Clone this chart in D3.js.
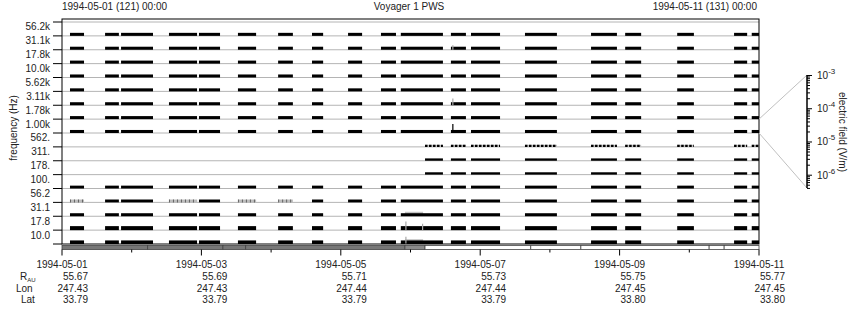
<!DOCTYPE html>
<html>
<head>
<meta charset="utf-8">
<script src="https://cdn.jsdelivr.net/npm/d3@7"></script>
<style>
  body { margin: 0; background: #fff; }
  text { font-family: "Liberation Sans", Arial, sans-serif; font-size: 10px; fill: #222; }
</style>
</head>
<body>
<div id="chart"></div>
<script>
// ---- data ----
const startTime = "1994-05-01T00:00";
const endTime = "1994-05-11T00:00";

const bandLabels = ["56.2k", "31.1k", "17.8k", "10.0k", "5.62k", "3.11k", "1.78k", "1.00k",
                    "562.", "311.", "178.", "100.", "56.2", "31.1", "17.8", "10.0"];

// typical field level in each channel (V/m)
const bandLevel = [2.2e-6, 2.2e-6, 2.2e-6, 2.2e-6, 2.2e-6, 2.2e-6, 2.2e-6, 2.2e-6,
                   1.3e-6, 1.5e-6, 1.5e-6, 2.0e-6, 2.0e-6, 2.2e-6, 3.8e-6, 3.0e-6];

// data-present intervals
const segments = [
  ["1994-05-01T02:45", "1994-05-01T07:35"],
  ["1994-05-01T14:50", "1994-05-01T19:35"],
  ["1994-05-01T20:20", "1994-05-02T07:20"],
  ["1994-05-02T12:50", "1994-05-02T22:30"],
  ["1994-05-02T23:10", "1994-05-03T06:25"],
  ["1994-05-03T12:35", "1994-05-03T18:50"],
  ["1994-05-04T02:25", "1994-05-04T07:30"],
  ["1994-05-04T14:05", "1994-05-04T17:55"],
  ["1994-05-05T02:30", "1994-05-05T07:20"],
  ["1994-05-05T13:50", "1994-05-05T19:00"],
  ["1994-05-05T20:40", "1994-05-06T11:10"],
  ["1994-05-06T13:55", "1994-05-06T19:05"],
  ["1994-05-06T20:50", "1994-05-07T06:50"],
  ["1994-05-07T15:25", "1994-05-08T02:25"],
  ["1994-05-08T14:10", "1994-05-08T23:05"],
  ["1994-05-09T01:55", "1994-05-09T07:25"],
  ["1994-05-09T19:50", "1994-05-10T01:35"],
  ["1994-05-10T15:25", "1994-05-10T19:55"],
  ["1994-05-10T21:30", "1994-05-11T00:00"]
];
// the 562 / 311 / 178 Hz channels only start after the mode change
const modeChange = "1994-05-06T05:00";
const lateBands = ["562.", "311.", "178."];
const dottedBands = ["562."];
// 56.2 Hz channel is faint (grey) in these intervals
const faintBand = "56.2";
const faintSegs = [0, 3, 5, 6];

// grey humps and single spikes
const greyBars = [
  ["1994-05-05T22:05", "1994-05-06T04:20", "31.1", 5.0e-6],
  ["1994-05-05T22:05", "1994-05-06T04:20", "10.0", 6.0e-6]
];
const spikes = [
  ["1994-05-06T14:35", "1.00k", 6.0e-5, "#000"],
  ["1994-05-06T14:35", "3.11k", 1.8e-5, "#aaa"],
  ["1994-05-06T14:35", "31.1k", 5.0e-6, "#aaa"],
  ["1994-05-05T22:25", "17.8", 5.0e-5, "#aaa"],
  ["1994-05-06T04:10", "17.8", 1.5e-5, "#aaa"],
  ["1994-05-05T22:25", "10.0", 2.5e-5, "#aaa"]
];

// coverage bar under the plot
const coverage = [
  ["1994-05-01T00:00", "1994-05-02T05:30", "#777"],
  ["1994-05-02T05:30", "1994-05-03T07:25", "#777"],
  ["1994-05-03T07:25", "1994-05-03T15:15", "#777"],
  ["1994-05-03T15:15", "1994-05-05T22:05", "#777"],
  ["1994-05-05T22:05", "1994-05-06T05:00", "#8a8a8a"],
  ["1994-05-06T05:00", "1994-05-07T17:25", "#fff"],
  ["1994-05-07T17:25", "1994-05-08T10:40", "#fff"],
  ["1994-05-08T10:40", "1994-05-10T06:50", "#fff"],
  ["1994-05-10T06:50", "1994-05-10T12:00", "#fff"],
  ["1994-05-10T12:00", "1994-05-11T00:00", "#fff"]
];

const orbitDates = ["1994-05-01", "1994-05-03", "1994-05-05", "1994-05-07", "1994-05-09", "1994-05-11"];
const rAU = [55.67, 55.69, 55.71, 55.73, 55.75, 55.77];
const lon = [247.43, 247.43, 247.44, 247.44, 247.45, 247.45];
const lat = [33.79, 33.79, 33.79, 33.79, 33.80, 33.80];

const colorTicks = [1e-3, 1e-4, 1e-5, 1e-6];
const ampMin = Math.pow(10, -6.4), ampMax = 1e-3;

// ---- layout ----
const width = 860, height = 320;
const plot = { left: 62, right: 759, top: 19, bandTop: 22, bottom: 244 };

const parse = d3.utcParse("%Y-%m-%dT%H:%M");
const parseDay = d3.utcParse("%Y-%m-%d");

var svg = d3.select("#chart")
    .append("svg")
    .attr("width", width)
    .attr("height", height);

var x = d3.scaleUtc()
    .domain([parse(startTime), parse(endTime)])
    .range([plot.left, plot.right]);

var y = d3.scaleBand()
    .domain(bandLabels)
    .range([plot.bandTop, plot.bottom]);

// height of a trace above its channel baseline
var amp = d3.scaleLog()
    .domain([ampMin, ampMax])
    .range([0, y.bandwidth()]);

var cScale = d3.scaleLog()
    .domain([ampMin, ampMax])
    .range([188, 75]);

const base = b => y(b) + y.bandwidth();

// channel baselines
svg.append("g")
    .selectAll("line")
    .data(bandLabels)
    .join("line")
    .attr("x1", plot.left).attr("x2", plot.right)
    .attr("y1", b => y(b)).attr("y2", b => y(b))
    .attr("stroke", "#b4b4b4")
    .attr("stroke-width", 1);

// frequency ticks at channel boundaries
const bounds = bandLabels.map(b => y(b)).concat([plot.bottom]);
svg.append("g")
    .selectAll("line")
    .data(bounds)
    .join("line")
    .attr("x1", plot.left - 9).attr("x2", plot.left)
    .attr("y1", d => d).attr("y2", d => d)
    .attr("stroke", "#000");

// channel labels
var yAxis = svg.append("g")
    .attr("transform", `translate(${plot.left}, 0)`)
    .call(d3.axisLeft(y).tickSize(0).tickPadding(12));
yAxis.select(".domain").remove();
yAxis.selectAll("text")
    .attr("dy", "0.15em")
    .style("font-size", "10px")
    .attr("fill", "#222");

// grey humps
svg.append("g")
    .selectAll("rect")
    .data(greyBars)
    .join("rect")
    .attr("x", d => x(parse(d[0])))
    .attr("width", d => x(parse(d[1])) - x(parse(d[0])))
    .attr("y", d => base(d[2]) - amp(d[3]))
    .attr("height", d => amp(d[3]))
    .attr("fill", "#c4c4c4");

// data bars
var bars = [];
bandLabels.forEach((b, i) => {
    segments.forEach((s, j) => {
        var t0 = parse(s[0]), t1 = parse(s[1]);
        if (lateBands.includes(b)) {
            var mc = parse(modeChange);
            if (t1 <= mc) return;
            if (t0 < mc) t0 = mc;
        }
        var faint = (b === faintBand && faintSegs.includes(j));
        bars.push({ band: b, t0: t0, t1: t1, v: bandLevel[i], faint: faint });
    });
});

var plain = bars.filter(d => !dottedBands.includes(d.band) && !d.faint);
svg.append("g")
    .selectAll("rect")
    .data(plain)
    .join("rect")
    .attr("x", d => x(d.t0))
    .attr("width", d => x(d.t1) - x(d.t0))
    .attr("y", d => base(d.band) - amp(d.v))
    .attr("height", d => amp(d.v))
    .attr("fill", "#000");

// dotted / faint traces: grey trace with dashes on top
var dotted = bars.filter(d => dottedBands.includes(d.band) || d.faint);
svg.append("g")
    .selectAll("rect")
    .data(dotted)
    .join("rect")
    .attr("x", d => x(d.t0))
    .attr("width", d => x(d.t1) - x(d.t0))
    .attr("y", d => base(d.band) - amp(d.v))
    .attr("height", d => amp(d.v))
    .attr("fill", "#bdbdbd");
svg.append("g")
    .selectAll("line")
    .data(dotted)
    .join("line")
    .attr("x1", d => x(d.t0)).attr("x2", d => x(d.t1))
    .attr("y1", d => base(d.band) - amp(d.v) / 2)
    .attr("y2", d => base(d.band) - amp(d.v) / 2)
    .attr("stroke", d => d.faint ? "#666" : "#000")
    .attr("stroke-width", d => amp(d.v))
    .attr("stroke-dasharray", d => d.faint ? "1,3" : "2.5,1.5");

// spikes
svg.append("g")
    .selectAll("line")
    .data(spikes)
    .join("line")
    .attr("x1", d => x(parse(d[0]))).attr("x2", d => x(parse(d[0])))
    .attr("y1", d => base(d[1]))
    .attr("y2", d => base(d[1]) - amp(d[2]))
    .attr("stroke", d => d[3])
    .attr("stroke-width", 1.2);

// plot frame
svg.append("rect")
    .attr("x", plot.left)
    .attr("y", plot.top)
    .attr("width", plot.right - plot.left)
    .attr("height", plot.bottom - plot.top)
    .attr("fill", "none")
    .attr("stroke", "#000");

// coverage bar
var cov = svg.append("g");
cov.selectAll("rect")
    .data(coverage)
    .join("rect")
    .attr("x", d => x(parse(d[0])))
    .attr("width", d => x(parse(d[1])) - x(parse(d[0])))
    .attr("y", 245.5)
    .attr("height", 4)
    .attr("fill", d => d[2])
    .attr("stroke", "#444")
    .attr("stroke-width", 0.8);

// time axis
const days = d3.utcDay.range(parse(startTime), d3.utcHour.offset(parse(endTime), 1));
var tAxis = svg.append("g")
    .attr("transform", "translate(0, 249.5)");
tAxis.selectAll("line")
    .data(days)
    .join("line")
    .attr("x1", d => x(d)).attr("x2", d => x(d))
    .attr("y1", 0)
    .attr("y2", (d, i) => i % 2 === 0 ? 6 : 3)
    .attr("stroke", "#000");

// time labels and orbit table
const fmtDay = d3.utcFormat("%Y-%m-%d");
var table = svg.append("g");
orbitDates.forEach((d, i) => {
    var tx = x(parseDay(d));
    table.append("text")
        .attr("x", tx).attr("y", 268)
        .attr("text-anchor", "middle")
        .text(fmtDay(parseDay(d)));
    [rAU[i], lon[i], lat[i]].forEach((v, k) => {
        table.append("text")
            .attr("x", tx + 26).attr("y", 280 + k * 11.5)
            .attr("text-anchor", "end")
            .text(v.toFixed(2));
    });
});

var rLab = table.append("text").attr("x", 20).attr("y", 280).text("R");
rLab.append("tspan").attr("dy", 2).style("font-size", "6px").text("AU");
table.append("text").attr("x", 16).attr("y", 291.5).text("Lon");
table.append("text").attr("x", 21).attr("y", 303).text("Lat");

// header
svg.append("text").attr("x", plot.left).attr("y", 10).text("1994-05-01 (121) 00:00");
svg.append("text").attr("x", 409).attr("y", 10).attr("text-anchor", "middle").text("Voyager 1 PWS");
svg.append("text").attr("x", 757).attr("y", 10).attr("text-anchor", "end").text("1994-05-11 (131) 00:00");

// frequency title
svg.append("text")
    .attr("transform", "translate(17, 128) rotate(-90)")
    .attr("text-anchor", "middle")
    .text("frequency (Hz)");

// ---- field scale for one channel ----
const zoomBand = "1.00k";
svg.append("g")
    .selectAll("line")
    .data([ampMax, ampMin])
    .join("line")
    .attr("x1", plot.right)
    .attr("y1", d => base(zoomBand) - amp(d))
    .attr("x2", 807)
    .attr("y2", d => cScale(d))
    .attr("stroke", "#c0c0c0");

var minor = cScale.ticks().filter(t => !colorTicks.includes(t));
var cAxis = svg.append("g")
    .attr("transform", "translate(807, 0)");
cAxis.call(d3.axisRight(cScale).tickValues(minor).tickSize(3).tickFormat(""));
cAxis.append("g")
    .call(d3.axisRight(cScale).tickValues(colorTicks).tickSize(5).tickFormat(""));
cAxis.selectAll(".domain").attr("d", `M0,${cScale(ampMin)}V${cScale(ampMax)}`);

cAxis.selectAll(".clabel")
    .data(colorTicks)
    .join("text")
    .attr("class", "clabel")
    .attr("x", 10)
    .attr("y", d => cScale(d) + 4)
    .each(function (d) {
        var t = d3.select(this);
        t.append("tspan").text("10");
        t.append("tspan").attr("dy", -5).style("font-size", "8px").text(Math.round(Math.log10(d)));
    });

svg.append("text")
    .attr("transform", "translate(839, 132) rotate(90)")
    .attr("text-anchor", "middle")
    .text("electric field (V/m)");
</script>
</body>
</html>
